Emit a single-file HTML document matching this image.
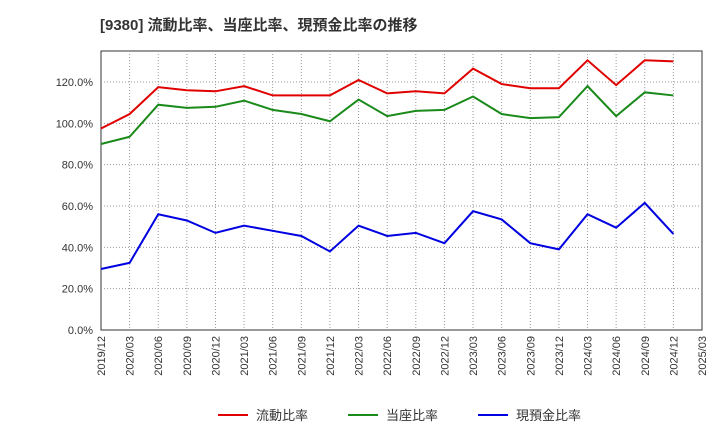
<!DOCTYPE html>
<html><head><meta charset="utf-8"><style>
body{margin:0;background:#fff;font-family:"Liberation Sans","Noto Sans CJK JP",sans-serif;}
svg text{font-family:"Liberation Sans","Noto Sans CJK JP",sans-serif;}
</style></head><body>
<svg id="c" width="720" height="440">
<text x="100" y="30" font-size="15" font-weight="bold" fill="#333">[9380]  流動比率、当座比率、現預金比率の推移</text>
</svg>
<script>
const categories=["2019/12","2020/03","2020/06","2020/09","2020/12","2021/03","2021/06","2021/09","2021/12","2022/03","2022/06","2022/09","2022/12","2023/03","2023/06","2023/09","2023/12","2024/03","2024/06","2024/09","2024/12","2025/03"];
const currentRatio=[97.5,104.5,117.5,116,115.5,118,113.5,113.5,113.5,121,114.5,115.5,114.5,126.5,119,117,117,130.5,118.5,130.5,130];
const quickRatio=[90,93.5,109,107.5,108,111,106.5,104.5,101,111.5,103.5,106,106.5,113,104.5,102.5,103,118,103.5,115,113.5];
const cashRatio=[29.5,32.5,56,53,47,50.5,48,45.5,38,50.5,45.5,47,42,57.5,53.5,42,39,56,49.5,61.5,46.5];
const yTicks=[0,20,40,60,80,100,120];
const seriesNames=["流動比率","当座比率","現預金比率"];
const L=101,R=702,T=51,B=330,YMAX=135;
const svg=document.getElementById('c');const NS="http://www.w3.org/2000/svg";
const x=i=>L+(R-L)*i/(categories.length-1);
const y=v=>B-(B-T)*v/YMAX;
function el(t,a,p){const e=document.createElementNS(NS,t);for(const k in a)e.setAttribute(k,a[k]);(p||svg).appendChild(e);return e;}
let r=el('rect',{x:L,y:T,width:R-L,height:B-T,fill:'none',stroke:'#333'});


categories.forEach((c,i)=>{
 if(i>0&&i<categories.length-1){let g=el('line',{x1:x(i),x2:x(i),y1:T,y2:B,stroke:'#999','stroke-dasharray':'1,2'});
 
 }
 let t=el('text',{x:0,y:0,'font-size':11,fill:'#333','text-anchor':'end',transform:`translate(${x(i)+4},${B+6}) rotate(-90)`});
 t.textContent=c;
 
 
});
yTicks.forEach(v=>{
 if(v>0){let g=el('line',{x1:L,x2:R,y1:y(v),y2:y(v),stroke:'#999','stroke-dasharray':'1,2'});
 
 }
 let t=el('text',{x:L-8,y:y(v)+4,'font-size':11,fill:'#333','text-anchor':'end'});
 t.textContent=v.toFixed(1)+'%';
 
 
});
const colors=['#e00000','#1a8a1a','#0000e0'];
[currentRatio,quickRatio,cashRatio].forEach((d,s)=>{
 let p=el('polyline',{points:d.map((v,i)=>x(i)+','+y(v)).join(' '),fill:'none',stroke:colors[s],'stroke-width':2});
 
 
 const lx=218+s*130;
 let g=el('g',{});
 
 
 el('line',{x1:lx,x2:lx+30,y1:415,y2:415,stroke:colors[s],'stroke-width':2},g);
 let t=el('text',{x:lx+38,y:420,'font-size':13,fill:'#333'},g);
 t.textContent=seriesNames[s];
});
</script>
</body></html>
